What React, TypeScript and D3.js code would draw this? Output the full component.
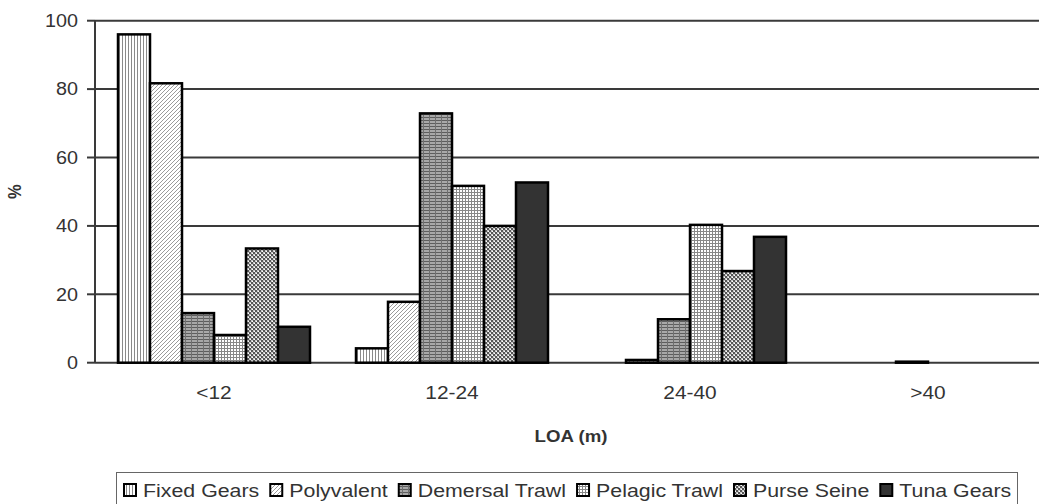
import React, { useEffect, useRef } from "react";
import * as d3 from "d3";

// Share of vessels (%) in each length-overall class, by gear type
const categories = ["<12", "12-24", "24-40", ">40"];
const seriesNames = ["Fixed Gears", "Polyvalent", "Demersal Trawl", "Pelagic Trawl", "Purse Seine", "Tuna Gears"];
const fixedGears = [96, 4.2, 0, 0];
const polyvalent = [81.7, 17.8, 0.8, 0];
const demersalTrawl = [14.5, 72.9, 12.7, 0.3];
const pelagicTrawl = [8.1, 51.7, 40.3, 0];
const purseSeine = [33.4, 40, 26.8, 0];
const tunaGears = [10.5, 52.7, 36.8, 0];
const yTicks = [0, 20, 40, 60, 80, 100];

const seriesValues = [fixedGears, polyvalent, demersalTrawl, pelagicTrawl, purseSeine, tunaGears];
const fills = ["url(#p-fixed)", "url(#p-poly)", "url(#p-dem)", "url(#p-pel)", "url(#p-purse)", "#333333"];

const W = 1039;
const H = 504;
const FONT = "'Liberation Sans', Arial, sans-serif";
const SX = 1.13;

export default function App() {
  const ref = useRef<SVGSVGElement | null>(null);

  useEffect(() => {
    const svg = d3.select(ref.current);
    svg.selectAll("*").remove();

    const defs = svg.append("defs");
    // Fixed gears: fine vertical stripes
    const pf = defs.append("pattern").attr("id", "p-fixed").attr("patternUnits", "userSpaceOnUse").attr("width", 3).attr("height", 3);
    pf.append("rect").attr("width", 3).attr("height", 3).attr("fill", "#fff");
    pf.append("rect").attr("x", 0).attr("width", 1).attr("height", 3).attr("fill", "#8a8a8a");
    // Polyvalent: light diagonal hatch
    const pp = defs.append("pattern").attr("id", "p-poly").attr("patternUnits", "userSpaceOnUse").attr("width", 4).attr("height", 4);
    pp.append("rect").attr("width", 4).attr("height", 4).attr("fill", "#fff");
    pp.append("path").attr("d", "M0,4 L4,0 M-1,1 L1,-1 M3,5 L5,3").attr("stroke", "#9a9a9a").attr("stroke-width", 1);
    // Demersal trawl: grey with horizontal lines and wider vertical lines
    const pd = defs.append("pattern").attr("id", "p-dem").attr("patternUnits", "userSpaceOnUse").attr("width", 6).attr("height", 3);
    pd.append("rect").attr("width", 6).attr("height", 3).attr("fill", "#a8a8a8");
    pd.append("rect").attr("y", 0).attr("width", 6).attr("height", 1).attr("fill", "#5e5e5e");
    pd.append("rect").attr("x", 0).attr("width", 1).attr("height", 3).attr("fill", "#707070");
    // Pelagic trawl: small grid on white
    const pg = defs.append("pattern").attr("id", "p-pel").attr("patternUnits", "userSpaceOnUse").attr("width", 3).attr("height", 3);
    pg.append("rect").attr("width", 3).attr("height", 3).attr("fill", "#fff");
    pg.append("rect").attr("width", 3).attr("height", 1).attr("fill", "#888");
    pg.append("rect").attr("width", 1).attr("height", 3).attr("fill", "#888");
    // Purse seine: dark dotted texture
    const pc = defs.append("pattern").attr("id", "p-purse").attr("patternUnits", "userSpaceOnUse").attr("width", 4).attr("height", 4);
    pc.append("rect").attr("width", 4).attr("height", 4).attr("fill", "#555");
    pc.append("rect").attr("x", 0).attr("y", 0).attr("width", 2).attr("height", 2).attr("fill", "#c8c8c8");
    pc.append("rect").attr("x", 2).attr("y", 2).attr("width", 2).attr("height", 2).attr("fill", "#c8c8c8");
    pc.append("rect").attr("x", 1).attr("y", 1).attr("width", 1).attr("height", 1).attr("fill", "#fff");
    pc.append("rect").attr("x", 3).attr("y", 3).attr("width", 1).attr("height", 1).attr("fill", "#fff");

    const plotLeft = 95;
    const plotRight = 1047;
    const x0 = d3.scaleBand<string>().domain(categories).range([plotLeft, plotRight]).padding(0);
    const x1 = d3.scaleBand<string>().domain(seriesNames).range([0, x0.bandwidth()]).paddingInner(0).paddingOuter(0.71875);
    const y = d3.scaleLinear().domain([0, 100]).range([362.7, 20.7]);

    // Horizontal gridlines
    svg.append("g").selectAll("line").data(yTicks).join("line")
      .attr("x1", plotLeft).attr("x2", W)
      .attr("y1", (d) => y(d)).attr("y2", (d) => y(d))
      .attr("stroke", "#3a3a3a").attr("stroke-width", 2);

    // Y axis with outside ticks
    svg.append("line").attr("x1", plotLeft).attr("x2", plotLeft).attr("y1", y(100)).attr("y2", y(0))
      .attr("stroke", "#3a3a3a").attr("stroke-width", 2);
    svg.append("g").selectAll("line").data(yTicks).join("line")
      .attr("x1", plotLeft - 8).attr("x2", plotLeft)
      .attr("y1", (d) => y(d)).attr("y2", (d) => y(d))
      .attr("stroke", "#3a3a3a").attr("stroke-width", 2);
    svg.append("g").selectAll("text").data(yTicks).join("text")
      .attr("transform", (d) => `translate(78,${y(d) + 6.3}) scale(${SX},1)`)
      .attr("text-anchor", "end").attr("font-family", FONT).attr("font-size", 17.5).attr("fill", "#333")
      .text((d) => String(d));

    // Bars
    const groups = svg.append("g").selectAll("g").data(categories).join("g")
      .attr("transform", (c) => `translate(${x0(c)},0)`);
    groups.selectAll("rect")
      .data((c) => seriesNames.map((s, si) => ({ s, si, v: seriesValues[si][categories.indexOf(c)] })).filter((d) => d.v > 0))
      .join("rect")
      .attr("x", (d) => x1(d.s)!)
      .attr("width", x1.bandwidth())
      .attr("y", (d) => y(d.v))
      .attr("height", (d) => y(0) - y(d.v))
      .attr("fill", (d) => fills[d.si])
      .attr("stroke", "#000").attr("stroke-width", 2.5);

    // Category labels
    svg.append("g").selectAll("text").data(categories).join("text")
      .attr("transform", (c) => `translate(${x0(c)! + x0.bandwidth() / 2},399) scale(${SX},1)`)
      .attr("text-anchor", "middle").attr("font-family", FONT).attr("font-size", 18.5).attr("fill", "#333")
      .text((c) => c);

    // Axis titles
    svg.append("text")
      .attr("transform", `translate(${(plotLeft + plotRight) / 2},442) scale(${SX},1)`)
      .attr("text-anchor", "middle").attr("font-family", FONT).attr("font-size", 16.5).attr("font-weight", "bold").attr("fill", "#333")
      .text("LOA (m)");
    svg.append("text")
      .attr("transform", `translate(21,${(y(0) + y(100)) / 2}) rotate(-90) scale(1,${SX})`)
      .attr("text-anchor", "middle").attr("font-family", FONT).attr("font-size", 16.5).attr("font-weight", "bold").attr("fill", "#333")
      .text("%");

    // Legend
    svg.append("rect").attr("x", 116.5).attr("y", 472.5).attr("width", 901).attr("height", 45)
      .attr("fill", "#fff").attr("stroke", "#666").attr("stroke-width", 1);
    let lx = 124;
    seriesNames.forEach((name, i) => {
      svg.append("rect").attr("x", lx).attr("y", 484).attr("width", 12).attr("height", 12)
        .attr("fill", fills[i]).attr("stroke", "#000").attr("stroke-width", 2);
      const t = svg.append("text")
        .attr("transform", `translate(${lx + 19},496.5) scale(${SX},1)`)
        .attr("font-family", FONT).attr("font-size", 18.9).attr("fill", "#333")
        .text(name);
      const len = (t.node() as SVGTextElement).getComputedTextLength() * SX;
      lx = lx + 19 + len + 11;
    });
  }, []);

  return (
    <svg ref={ref} width={W} height={H} style={{ position: "absolute", left: 0, top: 0, background: "#fff" }} />
  );
}
